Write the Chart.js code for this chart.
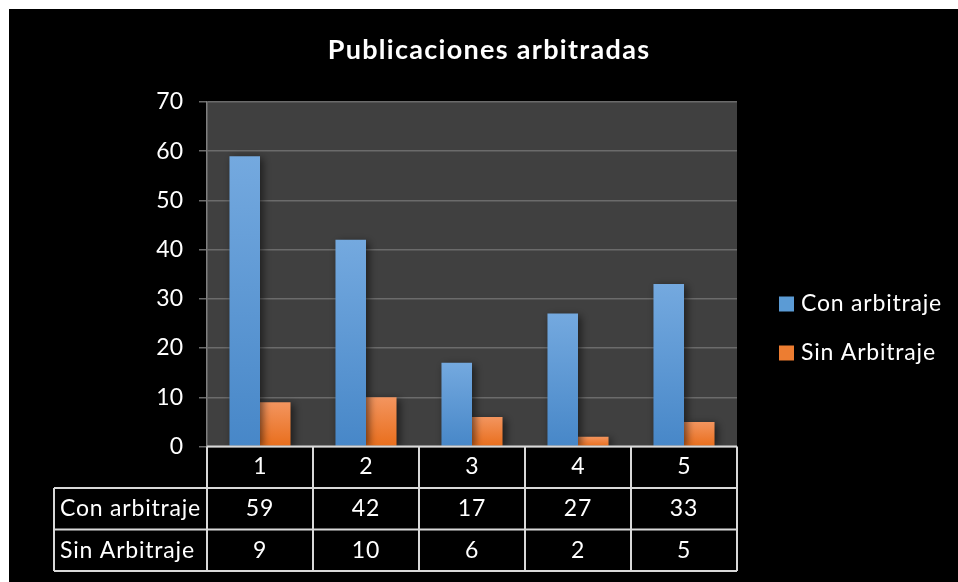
<!DOCTYPE html>
<html>
<head>
<meta charset="utf-8">
<script src="https://cdn.jsdelivr.net/npm/chart.js@4.4.1/dist/chart.umd.min.js"></script>
<style>
  html, body { margin: 0; padding: 0; background: #fff; }
  #wrap { width: 958px; height: 582px; }
</style>
</head>
<body>
<div id="wrap"><canvas id="myChart" width="958" height="582"></canvas></div>
<script>
const categories = ['1', '2', '3', '4', '5'];
const conArbitraje = [59, 42, 17, 27, 33];
const sinArbitraje = [9, 10, 6, 2, 5];
const seriesNames = ['Con arbitraje', 'Sin Arbitraje'];
const chartTitle = 'Publicaciones arbitradas';

const FONT = 'Lato, "Open Sans", sans-serif';

// vertical gradient per bar: lighter at the top, darker at the base
function barGradient(top, bottom) {
  return function (c) {
    const chart = c.chart;
    if (!chart.chartArea || c.type !== 'data') return bottom;
    const y = chart.scales.y;
    const y0 = y.getPixelForValue(c.raw);
    const y1 = y.getPixelForValue(0);
    if (!isFinite(y0) || y1 - y0 < 1) return bottom;
    const g = chart.ctx.createLinearGradient(0, y0, 0, y1);
    g.addColorStop(0, top);
    g.addColorStop(1, bottom);
    return g;
  };
}

const swatch = ['#5b9bd5', '#ed7d31'];

const frame = {
  id: 'frame',
  beforeDraw(chart) {
    const ctx = chart.ctx, a = chart.chartArea;
    ctx.save();
    ctx.fillStyle = '#fff';
    ctx.fillRect(0, 0, chart.width, chart.height);
    ctx.fillStyle = '#000';
    ctx.fillRect(9, 9, chart.width - 9, chart.height - 9);
    ctx.fillStyle = '#404040';
    ctx.fillRect(a.left, a.top, a.right - a.left, a.bottom - a.top);
    ctx.restore();
  },
  beforeDatasetsDraw(chart) {
    const ctx = chart.ctx;
    ctx.save();
    ctx.shadowColor = 'rgba(0,0,0,0.55)';
    ctx.shadowBlur = 8;
    ctx.shadowOffsetX = 3;
    ctx.shadowOffsetY = 2;
  },
  afterDatasetsDraw(chart) {
    chart.ctx.restore();
  },
  afterDraw(chart) {
    const ctx = chart.ctx, a = chart.chartArea, x = chart.scales.x;
    const step = (a.right - a.left) / categories.length;
    const rowH = 41.5;
    const t0 = a.bottom;
    const labelLeft = 54;

    ctx.save();
    // title
    ctx.fillStyle = '#fff';
    ctx.font = 'bold 27px ' + FONT;
    ctx.letterSpacing = '1.3px';
    ctx.textAlign = 'center';
    ctx.textBaseline = 'middle';
    ctx.fillText(chartTitle, 489, 50);

    // data table
    ctx.strokeStyle = '#d9d9d9';
    ctx.lineWidth = 2;
    ctx.beginPath();
    ctx.moveTo(a.left, t0); ctx.lineTo(a.right, t0);
    for (let r = 1; r <= 3; r++) {
      ctx.moveTo(labelLeft, t0 + r * rowH); ctx.lineTo(a.right, t0 + r * rowH);
    }
    for (let i = 0; i <= categories.length; i++) {
      const px = a.left + i * step;
      ctx.moveTo(px, t0); ctx.lineTo(px, t0 + 3 * rowH);
    }
    ctx.moveTo(labelLeft, t0 + rowH); ctx.lineTo(labelLeft, t0 + 3 * rowH);
    ctx.stroke();

    const rows = [conArbitraje, sinArbitraje];
    ctx.font = '23px ' + FONT;
    ctx.letterSpacing = '0.8px';
    rows.forEach((vals, r) => {
      const cy = t0 + (r + 1.5) * rowH;
      ctx.textAlign = 'left';
      ctx.fillText(seriesNames[r], labelLeft + 6, cy);
      ctx.textAlign = 'center';
      vals.forEach((v, i) => ctx.fillText(String(v), x.getPixelForValue(i), cy));
    });

    // legend
    chart.data.datasets.forEach((ds, i) => {
      const ly = 304 + i * 49;
      ctx.fillStyle = swatch[i];
      ctx.fillRect(779, ly - 7.5, 15, 15);
      ctx.fillStyle = '#fff';
      ctx.textAlign = 'left';
      ctx.fillText(ds.label, 801, ly);
    });
    ctx.restore();
  }
};

new Chart(document.getElementById('myChart'), {
  type: 'bar',
  data: {
    labels: categories,
    datasets: [
      {
        label: seriesNames[0],
        data: conArbitraje,
        backgroundColor: barGradient('#74a9df', '#4787c8')
      },
      {
        label: seriesNames[1],
        data: sinArbitraje,
        backgroundColor: barGradient('#f3955f', '#e96e1c')
      }
    ]
  },
  options: {
    responsive: false,
    animation: false,
    layout: { padding: { top: 102, left: 0, right: 221, bottom: 94 } },
    datasets: { bar: { categoryPercentage: 0.576, barPercentage: 1.0 } },
    plugins: {
      legend: { display: false },
      title: { display: false },
      tooltip: { enabled: false }
    },
    scales: {
      x: {
        grid: { display: false, drawTicks: false },
        border: { display: false },
        ticks: { color: '#fff', font: { family: FONT, size: 23 }, padding: 6 },
        afterFit(scale) { scale.height = 41.5; }
      },
      y: {
        min: 0,
        max: 70,
        ticks: { stepSize: 10, color: '#fff', font: { family: FONT, size: 23 }, padding: 16 },
        grid: { color: '#6b6b6b', lineWidth: 1.5, tickLength: 8 },
        border: { color: '#7f7f7f', width: 1.5 },
        afterFit(scale) { scale.width = 207; }
      }
    }
  },
  plugins: [frame]
});
</script>
</body>
</html>
